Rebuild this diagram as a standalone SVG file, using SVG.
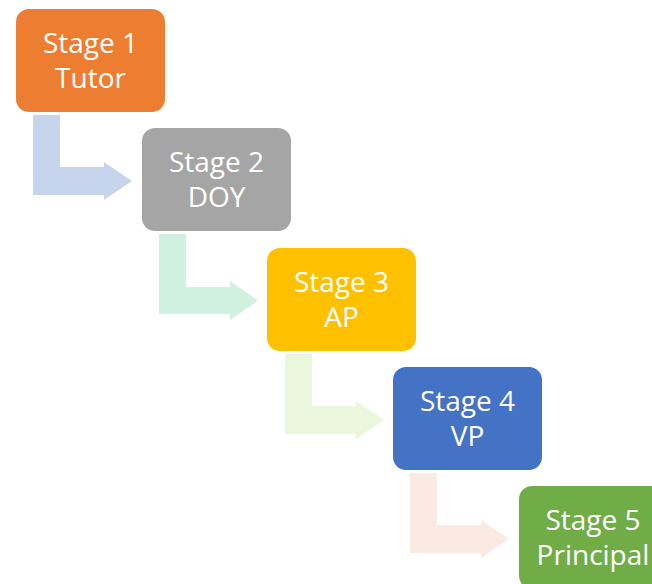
<svg xmlns="http://www.w3.org/2000/svg" width="652" height="584" viewBox="0 0 652 584">
<style>
.box{stroke:none}
.lbl{font-family:"Open Sans","Liberation Sans",sans-serif;font-size:28px;fill:#ffffff;text-anchor:middle}
</style>
<rect width="652" height="584" fill="#ffffff"/>
<g id="connectors">
<path fill="#C6D5EB" d="M33,115 H60 V167 H104 V162 L132,181 L104,200 V195 H33 Z"/>
<path fill="#D0F1DF" d="M159,234 H186 V287 H230 V281 L258,300.5 L230,320 V314 H159 Z"/>
<path fill="#EBF7DC" d="M285,354 H312 V406 H356 V401 L384,420 L356,439 V434 H285 Z"/>
<path fill="#FBE9E4" d="M410,473 H437 V525 H481 V520 L509,539 L481,558 V553 H410 Z"/>
</g>
<g id="stage1">
<rect class="box" x="16" y="9" width="149" height="103" rx="13" fill="#ED7D31"/>
<text class="lbl" x="90.5" y="53">Stage 1</text>
<text class="lbl" x="90.5" y="87.5">Tutor</text>
</g>
<g id="stage2">
<rect class="box" x="142" y="128" width="149" height="103" rx="13" fill="#A5A5A5"/>
<text class="lbl" x="216.5" y="172">Stage 2</text>
<text class="lbl" x="216.5" y="206.5">DOY</text>
</g>
<g id="stage3">
<rect class="box" x="267" y="248" width="149" height="103" rx="13" fill="#FFC000"/>
<text class="lbl" x="341.5" y="292">Stage 3</text>
<text class="lbl" x="341.5" y="326.5">AP</text>
</g>
<g id="stage4">
<rect class="box" x="393" y="367" width="149" height="103" rx="13" fill="#4472C4"/>
<text class="lbl" x="467.5" y="411">Stage 4</text>
<text class="lbl" x="467.5" y="445.5">VP</text>
</g>
<g id="stage5">
<rect class="box" x="519" y="486" width="149" height="103" rx="13" fill="#70AD47"/>
<text class="lbl" x="593" y="530">Stage 5</text>
<text class="lbl" x="593" y="564.5">Principal</text>
</g>
</svg>
